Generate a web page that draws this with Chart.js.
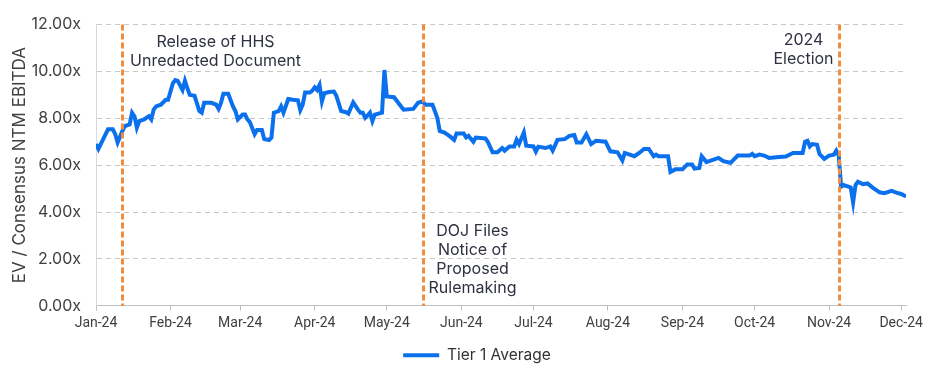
<!DOCTYPE html>
<html>
<head>
<meta charset="utf-8">
<script src="https://cdn.jsdelivr.net/npm/chart.js@4/dist/chart.umd.min.js"></script>
<style>
  html, body { margin: 0; padding: 0; background: #fff; }
  #wrap { width: 936px; height: 385px; }
</style>
</head>
<body>
<div id="wrap"><canvas id="chart"></canvas></div>
<script>
// Tier 1 average EV / consensus NTM EBITDA, 2024
const dates = [
  '2024-01-01','2024-01-02','2024-01-04','2024-01-06','2024-01-08','2024-01-09','2024-01-10','2024-01-12',
  '2024-01-13','2024-01-15','2024-01-16','2024-01-17','2024-01-18','2024-01-19','2024-01-21','2024-01-23',
  '2024-01-24','2024-01-25','2024-01-26','2024-01-28','2024-01-30','2024-01-31','2024-02-02','2024-02-03',
  '2024-02-04','2024-02-06','2024-02-07','2024-02-08','2024-02-09','2024-02-11','2024-02-13','2024-02-14',
  '2024-02-15','2024-02-18','2024-02-20','2024-02-21','2024-02-22','2024-02-23','2024-02-25','2024-02-27',
  '2024-02-28','2024-02-29','2024-03-02','2024-03-03','2024-03-04','2024-03-05','2024-03-07','2024-03-08',
  '2024-03-10','2024-03-11','2024-03-13','2024-03-14','2024-03-15','2024-03-17','2024-03-18','2024-03-19',
  '2024-03-21','2024-03-23','2024-03-25','2024-03-26','2024-03-27','2024-03-28','2024-03-30','2024-03-31',
  '2024-04-01','2024-04-02','2024-04-03','2024-04-04','2024-04-05','2024-04-07','2024-04-09','2024-04-10',
  '2024-04-12','2024-04-14','2024-04-15','2024-04-17','2024-04-19','2024-04-20','2024-04-21','2024-04-22',
  '2024-04-23','2024-04-24','2024-04-25','2024-04-26','2024-04-29','2024-04-30','2024-05-01','2024-05-04',
  '2024-05-07','2024-05-08','2024-05-12','2024-05-14','2024-05-16','2024-05-17','2024-05-20','2024-05-22',
  '2024-05-23','2024-05-25','2024-05-27','2024-05-29','2024-05-30','2024-06-02','2024-06-03','2024-06-04',
  '2024-06-06','2024-06-07','2024-06-11','2024-06-12','2024-06-14','2024-06-16','2024-06-18','2024-06-19',
  '2024-06-21','2024-06-23','2024-06-24','2024-06-25','2024-06-27','2024-06-28','2024-07-01','2024-07-02',
  '2024-07-03','2024-07-06','2024-07-08','2024-07-09','2024-07-11','2024-07-14','2024-07-16','2024-07-18',
  '2024-07-19','2024-07-21','2024-07-23','2024-07-25','2024-07-27','2024-07-31','2024-08-02','2024-08-05',
  '2024-08-07','2024-08-08','2024-08-12','2024-08-14','2024-08-16','2024-08-18','2024-08-20','2024-08-21',
  '2024-08-22','2024-08-26','2024-08-27','2024-08-29','2024-09-01','2024-09-03','2024-09-05','2024-09-06',
  '2024-09-08','2024-09-09','2024-09-11','2024-09-13','2024-09-16','2024-09-18','2024-09-21','2024-09-24',
  '2024-09-29','2024-09-30','2024-10-01','2024-10-03','2024-10-05','2024-10-07','2024-10-10','2024-10-14',
  '2024-10-17','2024-10-21','2024-10-22','2024-10-23','2024-10-24','2024-10-25','2024-10-27','2024-10-28',
  '2024-10-30','2024-11-01','2024-11-03','2024-11-04','2024-11-05','2024-11-06','2024-11-07','2024-11-10',
  '2024-11-11','2024-11-12','2024-11-13','2024-11-15','2024-11-17','2024-11-19','2024-11-22','2024-11-24',
  '2024-11-27','2024-11-29','2024-12-01','2024-12-03'
];
const tier1Average = [
  6.90, 6.69, 7.11, 7.53, 7.53, 7.32, 6.97, 7.46,
  7.67, 7.74, 8.24, 8.09, 7.60, 7.88, 7.95, 8.09,
  7.95, 8.37, 8.51, 8.58, 8.79, 8.79, 9.50, 9.63,
  9.60, 9.21, 9.60, 9.29, 9.00, 8.96, 8.31, 8.24,
  8.66, 8.66, 8.58, 8.40, 8.66, 9.05, 9.05, 8.51,
  8.31, 7.95, 8.16, 8.16, 7.95, 7.84, 7.32, 7.50,
  7.50, 7.11, 7.07, 7.18, 8.24, 8.31, 8.51, 8.24,
  8.82, 8.79, 8.77, 8.35, 8.58, 9.10, 9.10, 9.18,
  9.32, 9.21, 9.42, 8.72, 9.07, 9.12, 9.14, 8.96,
  8.31, 8.26, 8.20, 8.68, 8.37, 8.24, 8.24, 8.02,
  8.12, 8.24, 7.88, 8.16, 8.24, 10.06, 8.93, 8.90,
  8.49, 8.37, 8.40, 8.66, 8.72, 8.58, 8.58, 8.02,
  7.46, 7.39, 7.25, 7.08, 7.35, 7.35, 7.18, 7.25,
  7.00, 7.18, 7.14, 7.00, 6.55, 6.55, 6.73, 6.62,
  6.80, 6.80, 7.08, 6.90, 7.39, 6.83, 6.80, 6.58,
  6.79, 6.73, 6.80, 6.62, 7.08, 7.11, 7.25, 7.29,
  6.97, 6.97, 7.32, 6.90, 7.04, 7.00, 6.59, 6.55,
  6.20, 6.52, 6.38, 6.52, 6.69, 6.69, 6.38, 6.45,
  6.38, 6.38, 5.71, 5.82, 5.82, 6.03, 6.03, 5.85,
  5.88, 6.38, 6.13, 6.20, 6.31, 6.17, 6.10, 6.41,
  6.41, 6.48, 6.38, 6.45, 6.41, 6.31, 6.34, 6.37,
  6.52, 6.52, 7.00, 7.04, 6.80, 6.90, 6.87, 6.48,
  6.27, 6.41, 6.45, 6.62, 6.42, 5.08, 5.15, 5.05,
  4.41, 5.15, 5.29, 5.19, 5.22, 5.05, 4.84, 4.80,
  4.90, 4.83, 4.77, 4.66
];

const tickDates = ['2024-01-01','2024-02-01','2024-03-01','2024-04-01','2024-05-01','2024-06-01',
  '2024-07-01','2024-08-01','2024-09-01','2024-10-01','2024-11-01','2024-12-01'];
const tickLabels = ['Jan-24','Feb-24','Mar-24','Apr-24','May-24','Jun-24',
  'Jul-24','Aug-24','Sep-24','Oct-24','Nov-24','Dec-24'];
const axisEnd = '2024-12-03';

const eventDates = ['2024-01-12', '2024-05-16', '2024-11-05'];
const eventLabels = [
  ['Release of HHS', 'Unredacted Document'],
  ['DOJ Files', 'Notice of', 'Proposed', 'Rulemaking'],
  ['2024', 'Election']
];

// day offset from Jan 1 2024
const dayOf = d => (Date.parse(d + 'T00:00:00Z') - Date.parse('2024-01-01T00:00:00Z')) / 86400000;

const points = dates.map((d, i) => ({ x: dayOf(d), y: tier1Average[i] }));
const tickDays = tickDates.map(dayOf);

const eventPlugin = {
  id: 'eventLines',
  afterLayout(chart, args, opts) {
    // legend sits a bit right of the canvas centre in the original
    if (chart.legend) chart.legend.left = opts.legendLeft;
  },
  afterDatasetsDraw(chart, args, opts) {
    const { ctx, chartArea, scales: { x } } = chart;
    ctx.save();
    eventDates.forEach((d, i) => {
      const px = Math.round(x.getPixelForValue(dayOf(d))) + 0.5;
      ctx.strokeStyle = opts.color;
      ctx.lineWidth = 3;
      ctx.setLineDash([6, 3]);
      ctx.beginPath();
      ctx.moveTo(px, chartArea.top);
      ctx.lineTo(px, chartArea.bottom);
      ctx.stroke();

      const lay = opts.layout[i];
      ctx.setLineDash([]);
      ctx.fillStyle = opts.textColor;
      ctx.font = opts.font;
      ctx.textAlign = 'center';
      ctx.textBaseline = 'middle';
      eventLabels[i].forEach((line, j) => {
        ctx.fillText(line, px + lay.dx, chartArea.top + lay.dy + j * opts.lineHeight);
      });
    });
    ctx.restore();
  }
};

new Chart(document.getElementById('chart'), {
  type: 'line',
  data: {
    datasets: [{
      label: 'Tier 1 Average',
      data: points,
      borderColor: '#0B70EC',
      backgroundColor: '#0B70EC',
      borderWidth: 4,
      pointRadius: 0,
      tension: 0
    }]
  },
  options: {
    responsive: true,
    maintainAspectRatio: false,
    animation: false,
    parsing: false,
    layout: { padding: { top: 19, right: 30, left: 0, bottom: 12 } },
    plugins: {
      tooltip: { enabled: false },
      legend: {
        position: 'bottom',
        labels: {
          usePointStyle: true,
          pointStyle: 'line',
          pointStyleWidth: 36,
          color: '#333',
          font: { family: 'Inter', size: 15.5 },
          padding: 12
        }
      },
      eventLines: {
        color: '#F58B3C',
        textColor: '#2E3140',
        font: '16px Inter',
        lineHeight: 19,
        legendLeft: 48,
        layout: [
          { dx: 93, dy: 18 },
          { dx: 49, dy: 207 },
          { dx: -36, dy: 16 }
        ]
      }
    },
    scales: {
      x: {
        type: 'linear',
        min: 0,
        max: dayOf(axisEnd),
        afterBuildTicks: scale => { scale.ticks = tickDays.map(v => ({ value: v })); },
        ticks: {
          autoSkip: false,
          maxRotation: 0,
          padding: 4,
          color: '#404040',
          font: { family: 'Roboto', size: 14 },
          callback: v => tickLabels[tickDays.indexOf(v)]
        },
        grid: { drawOnChartArea: false, drawTicks: true, tickLength: 5, color: '#bfbfbf' },
        border: { color: '#bfbfbf' }
      },
      y: {
        min: 0,
        max: 12,
        afterFit: scale => { scale.width = 96; },
        ticks: {
          stepSize: 2,
          padding: 15,
          color: '#404040',
          font: { family: 'Inter', size: 16 },
          callback: v => v.toFixed(2) + 'x'
        },
        grid: { color: '#c8c8c8', drawTicks: false },
        border: { color: '#d9d9d9', dash: [5, 4] },
        title: {
          display: true,
          text: 'EV / Consensus NTM EBITDA',
          color: '#404040',
          font: { family: 'Inter', size: 17 },
          padding: { top: 10, bottom: 0 }
        }
      }
    }
  },
  plugins: [eventPlugin]
});
</script>
</body>
</html>
